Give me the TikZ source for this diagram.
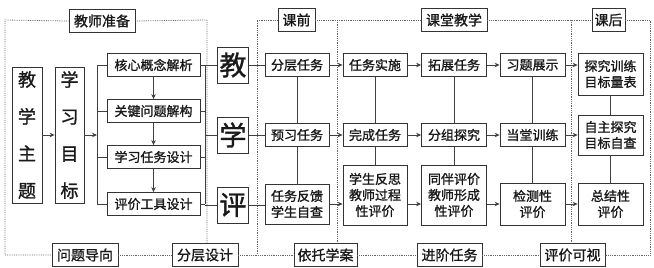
\documentclass[tikz,border=0pt]{standalone}
\usepackage{fontspec}
\newfontfamily\cjk[FakeBold=1.2]{Noto Sans CJK SC}
\usetikzlibrary{arrows.meta}
\tikzset{
  box/.style={draw=black!80, line width=0.8pt, fill=white, inner sep=0pt, align=center,
    font=\cjk\fontsize{13}{16}\selectfont, text=black!90},
  bigbox/.style={box, font=\cjk\fontsize{27}{30}\selectfont},
  vbox/.style={box, font=\cjk\fontsize{18}{37}\selectfont},
  lab/.style={box, font=\cjk\fontsize{14}{16}\selectfont, minimum width=66pt, minimum height=23pt},
  ln/.style={draw=black!75, line width=0.8pt},
  arr/.style={ln, -{Stealth[length=5pt,width=4.5pt]}},
  frm/.style={draw=black!60, line width=0.8pt, densely dotted},
}
\begin{document}
\begin{tikzpicture}[x=1pt,y=-1pt]
\useasboundingbox (0,0) rectangle (654,268);
% frame 1 nodes
\node[vbox, minimum width=30pt, minimum height=136pt] (theme) at (27,135) {教\\学\\主\\题};
\node[vbox, minimum width=29pt, minimum height=136pt] (goal) at (69.5,135) {学\\习\\目\\标};
\node[box, minimum width=93pt, minimum height=23pt] (c1) at (153.5,65) {核心概念解析};
\node[box, minimum width=93pt, minimum height=23pt] (c2) at (153.5,111) {关键问题解构};
\node[box, minimum width=93pt, minimum height=23pt] (c3) at (153.5,157) {学习任务设计};
\node[box, minimum width=93pt, minimum height=23pt] (c4) at (153.5,204) {评价工具设计};
% big chars
\node[bigbox, minimum width=31pt, minimum height=36pt] (jiao) at (233,65) {教};
\node[bigbox, minimum width=31pt, minimum height=36pt] (xue) at (233,135) {学};
\node[bigbox, minimum width=31pt, minimum height=36pt] (ping) at (233,205) {评};
% 课前
\node[box, minimum width=64pt, minimum height=23pt] (p1) at (297,65) {分层任务};
\node[box, minimum width=64pt, minimum height=23pt] (p2) at (297,135) {预习任务};
\node[box, minimum width=64pt, minimum height=40pt] (p3) at (297,204) {任务反馈\\学生自查};
% 课堂教学
\node[box, minimum width=64pt, minimum height=23pt] (k1) at (375,65) {任务实施};
\node[box, minimum width=64pt, minimum height=23pt] (k2) at (375,135) {完成任务};
\node[box, minimum width=64pt, minimum height=60pt] (k3) at (375,195) {学生反思\\教师过程\\性评价};
\node[box, minimum width=65pt, minimum height=23pt] (l1) at (454,65) {拓展任务};
\node[box, minimum width=65pt, minimum height=23pt] (l2) at (454,135) {分组探究};
\node[box, minimum width=65pt, minimum height=60pt] (l3) at (454,195) {同伴评价\\教师形成\\性评价};
\node[box, minimum width=65pt, minimum height=23pt] (m1) at (532.5,65) {习题展示};
\node[box, minimum width=65pt, minimum height=23pt] (m2) at (532.5,135) {当堂训练};
\node[box, minimum width=65pt, minimum height=42pt] (m3) at (532.5,204) {检测性\\评价};
% 课后
\node[box, minimum width=65pt, minimum height=42pt] (n1) at (610.5,74) {探究训练\\目标量表};
\node[box, minimum width=65pt, minimum height=40pt] (n2) at (610.5,135) {自主探究\\目标自查};
\node[box, minimum width=65pt, minimum height=42pt] (n3) at (610.5,204) {总结性\\评价};
% labels
\node[lab] (lab1) at (102,21) {教师准备};
\node[lab, minimum width=37pt] (lab2) at (296.5,20) {课前};
\node[lab] (lab3) at (454,20) {课堂教学};
\node[lab, minimum width=33pt] (lab4) at (608.5,20) {课后};
\node[lab] (b1) at (85,255) {问题导向};
\node[lab] (b2) at (205,255) {分层设计};
\node[lab, minimum width=63pt] (b3) at (325.5,255) {依托学案};
\node[lab, minimum width=65pt] (b4) at (449.5,255) {进阶任务};
\node[lab, minimum width=65pt] (b5) at (572.5,255) {评价可视};
% frames
\coordinate (f1tl) at (5,20);
\coordinate (f1bl) at (5,255);
\coordinate (f1tr) at (207,20);
\coordinate (f2tl) at (257,20);
\coordinate (f2bl) at (257,255);
\coordinate (f2tr) at (650,20);
\coordinate (f2br) at (650,255);
\coordinate (v2t) at (337,20);
\coordinate (v3t) at (571,20);
\draw[frm] (lab1.west) -- (f1tl) -- (f1bl) -- (b1.west);
\draw[frm] (b1.east) -- (b2.west);
\draw[frm] (lab1.east) -- (f1tr) -- (f1tr |- b2.north);
\draw[frm] (lab2.west) -- (f2tl) -- (f2bl);
\draw[frm] (lab2.east) -- (lab3.west);
\draw[frm] (lab3.east) -- (lab4.west);
\draw[frm] (lab4.east) -- (f2tr) -- (f2br) -- (b5.east);
\draw[frm] (b2.east) -- (b3.west);
\draw[frm] (b3.east) -- (b4.west);
\draw[frm] (b4.east) -- (b5.west);
\draw[frm] (v2t) -- (v2t |- b3.north);
\draw[frm] (v3t) -- (v3t |- b5.north);
% frame 1 connectors
\coordinate (bl) at (97,135);
\coordinate (br) at (205,135);
\draw[arr] (theme) -- (goal);
\draw[arr] (goal.east |- bl) -- (bl);
\draw[ln] (c1.west -| bl) -- (c4.west -| bl);
\foreach \n in {c1,c2,c3,c4} {
  \draw[ln] (\n.west -| bl) -- (\n.west);
  \draw[ln] (\n.east) -- (\n.east -| br);
}
\draw[ln] (c1.east -| br) -- (c4.east -| br);
\draw[arr] (c1) -- (c2);
\draw[arr] (c2) -- (c3);
\draw[arr] (c3) -- (c4);
\draw[ln] (jiao.west -| br) -- (jiao.west);
\draw[ln] (xue.west -| br) -- (xue.west);
\draw[ln] (ping.west -| br) -- (ping.west);
% 教学评 to 课前
\draw[ln] (jiao) -- (p1);
\draw[ln] (xue) -- (p2);
\draw[ln] (ping.east) -- (p3.west |- ping.east);
% vertical links
\foreach \a/\b in {p1/p2,p2/p3,k1/k2,k2/k3,l1/l2,l2/l3,m1/m2,m2/m3,n1/n2,n2/n3} {
  \draw[ln] (\a) -- (\b);
}
% arrows
\draw[arr] (p1) -- (k1);
\draw[arr] (p2) -- (k2);
\draw[arr] (p3.east) -- (k3.west |- p3.east);
\draw[arr] (k1) -- (l1);
\draw[arr] (k2) -- (l2);
\draw[arr] (k3.east |- p3.east) -- (l3.west |- p3.east);
\draw[arr] (l1) -- (m1);
\draw[arr] (l2) -- (m2);
\draw[arr] (l3.east |- m3.west) -- (m3.west);
\draw[arr] (m1.east) -- (n1.west |- m1.east);
\draw[arr] (m2) -- (n2);
\draw[arr] (m3) -- (n3);
\end{tikzpicture}
\end{document}
